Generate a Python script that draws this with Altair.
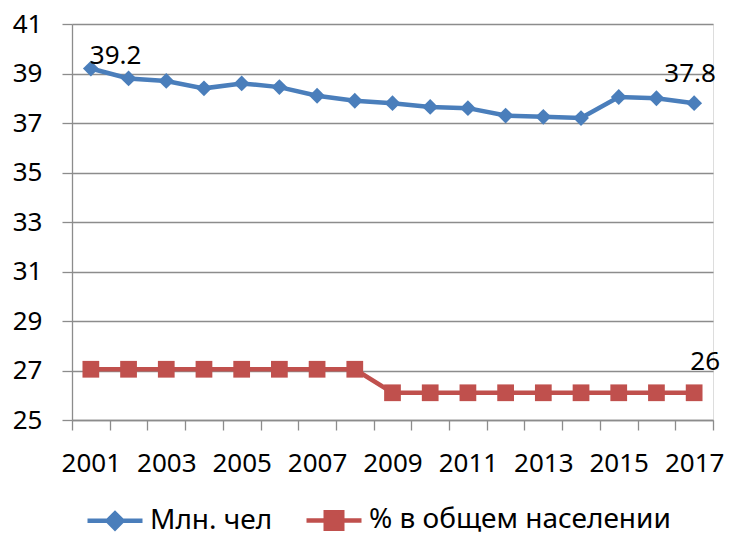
import altair as alt
import pandas as pd

years = ["2001", "2002", "2003", "2004", "2005", "2006", "2007", "2008", "2009",
         "2010", "2011", "2012", "2013", "2014", "2015", "2016", "2017"]
mln = [39.2, 38.8, 38.7, 38.4, 38.6, 38.45, 38.1, 37.9, 37.8,
       37.65, 37.6, 37.3, 37.25, 37.2, 38.05, 38.0, 37.8]
pct = [27.05, 27.05, 27.05, 27.05, 27.05, 27.05, 27.05, 27.05, 26.1,
       26.1, 26.1, 26.1, 26.1, 26.1, 26.1, 26.1, 26.1]
series_names = ["Млн. чел", "% в общем населении"]
series_colors = ["#4A7EBB", "#C0504D"]
series_shapes = ["diamond", "square"]
y_ticks = [25, 27, 29, 31, 33, 35, 37, 39, 41]
label_series = ["Млн. чел", "Млн. чел", "% в общем населении"]
label_years = ["2001", "2017", "2017"]
label_texts = ["39.2", "37.8", "26"]

rows = []
for name, vals in zip(series_names, [mln, pct]):
    for yr, v in zip(years, vals):
        rows.append({"year": yr, "series": name, "value": v})
df = pd.DataFrame(rows)

lab_rows = []
for s, yr, t in zip(label_series, label_years, label_texts):
    v = df[(df.series == s) & (df.year == yr)].value.iloc[0]
    lab_rows.append({"year": yr, "series": s, "value": v, "text": t})
ldf = pd.DataFrame(lab_rows)

FONT = "Noto Sans"
GRID = "#8c8c8c"

legend_shape_expr = (
    "datum.value == 'Млн. чел' ? "
    "'M-1,0L1,0M-0.27,0L0,-0.27L0.27,0L0,0.27Z' : "
    "'M-1,0L1,0M-0.3,-0.3L0.3,-0.3L0.3,0.3L-0.3,0.3Z'"
)

x_enc = alt.X(
    "year:O",
    sort=years,
    scale=alt.Scale(type="band", paddingInner=0, paddingOuter=0),
    bandPosition=0.5,
    axis=alt.Axis(
        title=None, labelAngle=0, labelFont=FONT, labelFontSize=26, labelColor="black",
        tickBand="extent", tickSize=10, tickColor=GRID, tickWidth=1.3,
        domainColor=GRID, domainWidth=1.3, grid=False, labelPadding=20,
        labelOverlap=False, labelBound=False, labelFlush=False,
        labelExpr="(toNumber(datum.value) - 2001) % 2 == 0 ? datum.value : ''",
    ),
)
y_enc = alt.Y(
    "value:Q",
    scale=alt.Scale(domain=[25, 41], nice=False, zero=False),
    axis=alt.Axis(
        title=None, values=y_ticks, labelFont=FONT, labelFontSize=26, labelColor="black",
        tickSize=10, tickColor=GRID, tickWidth=1.3, domainColor=GRID, domainWidth=1.3,
        grid=True, gridColor=GRID, gridWidth=1.3, labelPadding=20,
    ),
)
legend = alt.Legend(
    title=None, orient="none", direction="horizontal", legendX=13, legendY=466,
    labelFont=FONT, labelFontSize=28, labelColor="black", labelLimit=500,
    symbolType={"expr": legend_shape_expr}, symbolSize=3025, symbolStrokeWidth=4.5,
    labelOffset=5, columnPadding=24,
)
color_enc = alt.Color(
    "series:N", sort=series_names,
    scale=alt.Scale(domain=series_names, range=series_colors), legend=legend,
)

base = alt.Chart(df)
lines = base.mark_line(strokeWidth=4.5).encode(x=x_enc, y=y_enc, color=color_enc)
point_layers = []
for name, shp, sz in zip(series_names, series_shapes, [250, 280]):
    point_layers.append(
        base.transform_filter(alt.datum.series == name)
        .mark_point(filled=True, size=sz, opacity=1, shape=shp)
        .encode(x=x_enc, y=y_enc, color=color_enc)
    )

lab = alt.Chart(ldf)
offsets = [(-1, -5, "left"), (-4, -21, "center"), (11, -23, "center")]
text_layers = []
for i, (dx, dy, al) in enumerate(offsets):
    text_layers.append(
        lab.transform_filter(
            (alt.datum.series == label_series[i]) & (alt.datum.year == label_years[i])
        ).mark_text(font=FONT, fontSize=26, color="black", dx=dx, dy=dy, align=al,
                    baseline="alphabetic").encode(x=x_enc, y=y_enc, text="text:N")
    )

chart = alt.layer(lines, *point_layers, *text_layers).properties(
    width=641, height=396, autosize="none",
    padding={"left": 64, "top": 16, "right": 13, "bottom": 112},
).configure_view(stroke=None).configure(background="white")

chart.save("out.html", embed_options={"renderer": "svg", "actions": False})
